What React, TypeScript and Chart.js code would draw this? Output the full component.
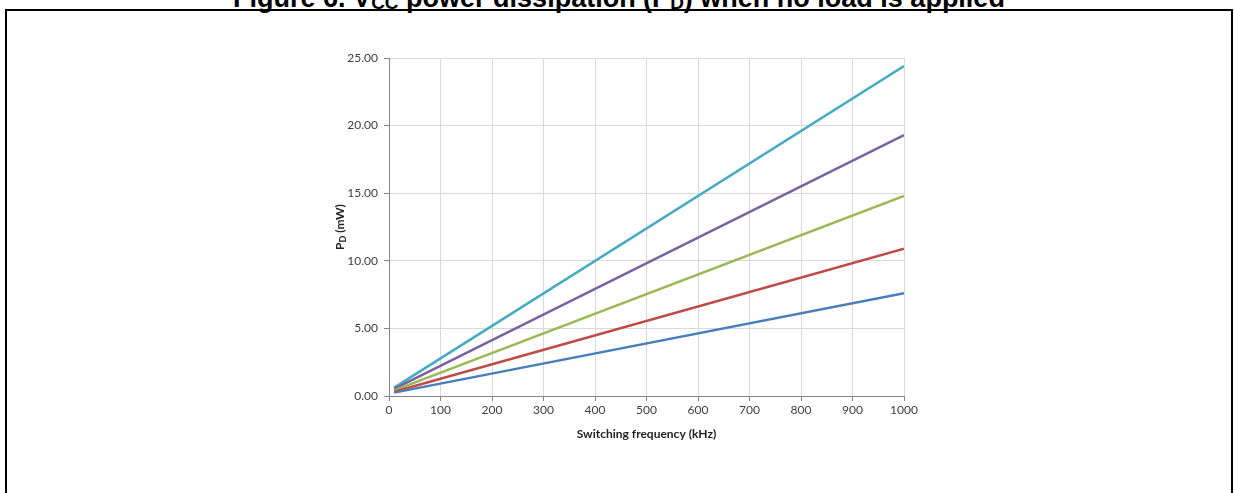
import React, { useEffect, useRef } from "react";
import { Chart, registerables } from "chart.js";

Chart.register(...registerables);

const frequencies = [10, 1000];
const seriesBlue = [0.25, 7.6];
const seriesRed = [0.32, 10.9];
const seriesGreen = [0.42, 14.8];
const seriesPurple = [0.52, 19.3];
const seriesCyan = [0.62, 24.4];
const seriesColors = ["#4a7ebb", "#be4b48", "#98b954", "#7d60a0", "#46aac5"];
const seriesValues = [seriesBlue, seriesRed, seriesGreen, seriesPurple, seriesCyan];

const FONT = "Lato, 'Open Sans', sans-serif";

const yTitlePlugin = {
  id: "yTitleSub",
  afterDraw(chart: any) {
    const { ctx, chartArea } = chart;
    ctx.save();
    const cx = chartArea.left - 49;
    const cy = (chartArea.top + chartArea.bottom) / 2;
    ctx.translate(cx, cy);
    ctx.rotate(-Math.PI / 2);
    ctx.fillStyle = "#222";
    ctx.textBaseline = "middle";
    const big = `bold 12px ${FONT}`;
    const small = `bold 9px ${FONT}`;
    ctx.font = big;
    const wP = ctx.measureText("P").width;
    const rest = " (mW)";
    const wRest = ctx.measureText(rest).width;
    ctx.font = small;
    const wD = ctx.measureText("D").width;
    const total = wP + wD + wRest;
    let x = -total / 2;
    ctx.font = big;
    ctx.textAlign = "left";
    ctx.fillText("P", x, 0);
    x += wP;
    ctx.font = small;
    ctx.fillText("D", x, 3);
    x += wD;
    ctx.font = big;
    ctx.fillText(rest, x, 0);
    ctx.restore();
  },
};

function PowerChart() {
  const ref = useRef<HTMLCanvasElement | null>(null);
  useEffect(() => {
    if (!ref.current) return;
    const chart = new Chart(ref.current, {
      type: "line",
      data: {
        datasets: seriesValues.map((vals, i) => ({
          label: `Series ${i + 1}`,
          data: frequencies.map((f, j) => ({ x: f, y: vals[j] })),
          borderColor: seriesColors[i],
          backgroundColor: seriesColors[i],
          borderWidth: 2.5,
          pointRadius: 0,
          tension: 0,
        })),
      },
      options: {
        animation: false,
        responsive: false,
        maintainAspectRatio: false,
        layout: { padding: { top: 18, right: 26, left: 0, bottom: 9 } },
        plugins: { legend: { display: false }, tooltip: { enabled: false } },
        scales: {
          x: {
            type: "linear",
            min: 0,
            max: 1000,
            ticks: {
              stepSize: 100,
              color: "#404040",
              font: { family: FONT, size: 12 },
              padding: 2,
              maxRotation: 0,
              callback: (v: any) => String(v),
            },
            grid: { color: "#d9d9d9", tickColor: "#868686", tickLength: 5, lineWidth: 1 },
            border: { color: "#868686", width: 1 },
            title: {
              display: true,
              text: "Switching frequency (kHz)",
              color: "#222",
              font: { family: FONT, size: 12, weight: "bold" },
              padding: { top: 0, bottom: 0 },
            },
            afterFit(scale: any) {
              scale.height = 45;
            },
          },
          y: {
            type: "linear",
            min: 0,
            max: 25,
            ticks: {
              stepSize: 5,
              color: "#404040",
              font: { family: FONT, size: 12 },
              padding: 6,
              callback: (v: any) => Number(v).toFixed(2),
            },
            grid: { color: "#d9d9d9", tickColor: "#868686", tickLength: 5, lineWidth: 1 },
            border: { color: "#868686", width: 1 },
            afterFit(scale: any) {
              scale.width = 89;
            },
          },
        },
      },
      plugins: [yTitlePlugin],
    });
    return () => chart.destroy();
  }, []);
  return (
    <canvas
      ref={ref}
      width={630}
      height={410}
      style={{ position: "absolute", left: 300, top: 40, width: 630, height: 410 }}
    />
  );
}

const subStyle: React.CSSProperties = { fontSize: 19, lineHeight: 0, verticalAlign: "-2px" };

export default function App() {
  useEffect(() => {
    document.body.style.margin = "0";
    document.body.style.overflow = "hidden";
  }, []);
  return (
    <div style={{ position: "relative", width: 1234, height: 493, overflow: "hidden", background: "#fff" }}>
      <div
        style={{
          position: "absolute",
          left: 0,
          width: 1238,
          top: -15,
          textAlign: "center",
          fontFamily: "'Liberation Sans', Arial, sans-serif",
          fontWeight: "bold",
          fontSize: 27,
          lineHeight: "27px",
          whiteSpace: "nowrap",
          color: "#000",
        }}
      >
        Figure 6. V<sub style={subStyle}>CC</sub> power dissipation (P<sub style={subStyle}>D</sub>) when no load is applied
      </div>
      <div
        style={{
          position: "absolute",
          left: 5,
          top: 9,
          width: 1224,
          height: 520,
          borderTop: "2px solid #000",
          borderLeft: "2px solid #000",
          borderRight: "2px solid #000",
        }}
      />
      <PowerChart />
    </div>
  );
}
